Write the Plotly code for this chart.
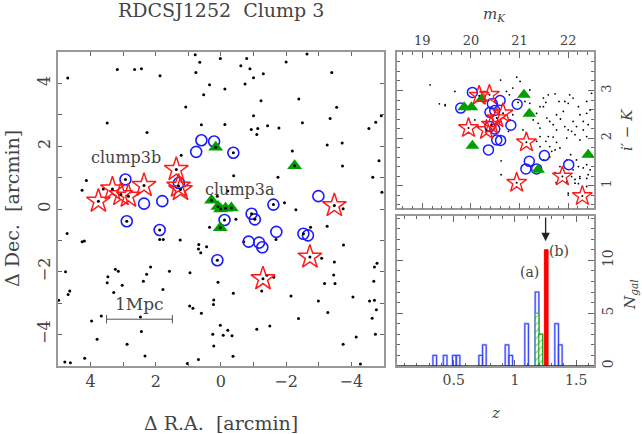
import plotly.graph_objects as go

# ---- left panel: sky positions (arcmin) ----
dot_ra = [4.70, 3.18, 2.65, 2.44, 1.87, 0.79, 0.65, 0.77, 0.35, 0.53, 1.08, 0.60, 3.49, 2.27, 1.22,
          4.13, 4.26, 3.61, 0.11, 0.02, -0.79, -2.64, -2.00, -0.61, -0.89, -1.30, -1.00, -0.74, -3.40,
          -0.12, -1.23, -2.39, -3.55, -1.00, -3.35, -2.50, -0.12, -1.43, -1.78, -0.93, -1.13, -1.10,
          -4.54, -4.75, -4.92, -3.72, -3.26, -2.19, -4.85, -3.73, -0.39, -1.75, -4.66, -4.94, -0.21,
          -1.95, 4.72, 4.26, 4.19, 1.88, 1.77, 1.25, 0.68, 0.69, 0.62, 0.44, 0.35, 4.77, 3.24, 3.15,
          3.47, 3.49, 3.03, 2.16, 2.28, 2.38, 1.58, 0.95, 0.09, 3.29, 1.78, 4.64, 4.69, 4.98, 0.96,
          0.86, 0.60, 0.22, 0.23, 3.67, 3.97, 2.47, 2.44, 3.80, 2.88, 0.25, 0.22, 2.33, 4.18, 4.79,
          4.62, 1.03, 0.69, -2.30, -0.46, -2.75, -3.26, -3.76, -1.69, -0.70, -3.09, -3.48, -4.79,
          -4.71, -1.62, -1.41, -3.46, -3.18, -3.50, -4.69, -1.25, -0.38, -2.15, -2.99, -4.05, -4.56,
          -4.71, -4.77, -3.28, -2.38, -4.64, 0.02, -0.21, -0.07, -0.34, -1.50, -1.10, -4.74, -4.15,
          -3.75, -0.37, -4.28, -3.75]
dot_dec = [4.17, 4.44, 4.44, 4.47, 4.24, 4.91, 4.67, 4.35, 3.96, 3.64, 3.25, 2.68, 2.74, 2.44, 1.71,
           0.91, 0.60, 0.64, 0.41, 4.79, 4.79, 4.94, 4.68, 4.56, 4.47, 4.31, 4.18, 3.98, 4.35,
           3.82, 3.45, 3.50, 3.24, 2.97, 2.88, 2.75, 2.69, 2.65, 2.58, 2.53, 2.56, 2.37,
           2.56, 2.76, 2.97, 2.10, 2.04, 1.85, 1.54, 1.37, 1.06, 1.01, 1.01, 0.53, 0.57,
           0.20, -0.78, -1.04, -1.02, -0.97, -0.97, -0.99, -1.13, -1.27, -1.39, -1.20, -0.58, -2.00, -1.92, -1.98,
           -2.16, -2.35, -2.43, -1.85, -2.08, -2.30, -1.98, -2.03, -2.33, -2.66, -2.56, -2.61, -2.72, -2.91, -3.09,
           -3.16, -3.32, -2.90, -3.04, -3.41, -3.57, -3.44, -3.90, -4.15, -4.31, -3.99, -4.36, -4.68, -4.75, -4.87,
           -4.90, -4.92, -4.79, -0.02, -0.33, -0.58, -0.55, -1.15, -0.97, -1.04, -1.57, -1.69, -1.73,
           -1.85, -2.17, -2.11, -2.10, -2.37, -2.37, -2.30, -2.61, -2.68, -2.77, -2.93, -2.80, -2.93,
           -2.91, -3.21, -3.30, -3.49, -3.48, -3.70, -3.86, -4.02, -4.04, -3.73, -3.83, -3.99, -4.08,
           -4.31, -4.69, -4.94, 0.01]

star_ra = [3.76, 3.33, 3.07, 2.84, 2.36, 1.37, 1.30, 1.24, -3.48, -2.73, -1.29]
star_dec = [0.25, 0.64, 0.46, 0.41, 0.75, 1.26, 0.73, 0.62, 0.11, -1.53, -2.22]

circ_ra = [2.93, 2.36, 1.80, 1.29, 0.76, 0.60, 0.21, -0.38, -1.61, -2.99, 2.89, 1.88, -0.11,
           -0.94, -1.04, -1.70, -2.53, -2.67, -0.85, -1.17, -1.27, 0.11]
circ_dec = [0.94, 0.17, 0.25, 0.83, 1.82, 2.19, 2.15, 1.79, 0.14, 0.41, -0.39, -0.67, -0.35,
            -0.15, -0.33, -0.73, -0.79, -0.84, -1.04, -1.07, -1.22, -1.63]
circ_dotted = [1, 0, 0, 0, 0, 0, 0, 1, 1, 0, 1, 1, 1, 1, 1, 0, 1, 0, 0, 0, 0, 1]

tri_ra = [0.16, -2.26, 0.29, 0.09, 0.01, -0.14, -0.32, 0.02]
tri_dec = [1.97, 1.38, 0.28, 0.08, 0.00, 0.02, 0.03, -0.60]

scalebar_ra = [3.51, 1.49]
scalebar_dec = -3.51

# ---- top right: colour-magnitude ----
cmd_dot_mk = [19.47, 19.67, 20.08, 20.61, 20.62, 20.62, 20.94, 21.01, 20.86, 20.79, 20.97, 21.11, 21.21,
              20.86, 20.77, 21.18, 21.28, 21.38, 21.42, 21.42, 21.54, 21.59, 21.69, 21.76, 21.62, 21.73,
              21.83, 21.42, 21.35, 21.50, 21.66, 21.62, 21.59, 21.73, 21.81, 21.93, 22.03, 22.00, 22.10,
              22.21, 22.38, 22.38, 22.31, 22.41, 21.76, 21.84, 21.93, 22.00, 22.07, 22.14, 22.24, 21.97,
              22.38, 21.76, 21.90, 22.24, 22.45, 22.48, 21.69, 21.42, 21.54, 21.49, 21.56, 21.62, 22.10,
              22.17, 22.31, 22.05, 22.17, 22.21, 22.31, 22.38, 22.07, 22.14, 22.24, 22.00, 22.10, 21.97,
              21.83, 22.41, 22.38, 22.45, 21.21, 21.07, 20.73, 20.80, 21.49, 21.35, 19.16, 19.35, 19.47,
              21.73, 21.75, 21.97, 22.14, 22.21, 22.24, 22.38, 22.00]
cmd_dot_col = [2.70, 2.98, 2.38, 3.22, 1.52, 1.23, 3.28, 3.19, 3.05, 2.91, 2.75, 2.77, 2.73,
               2.49, 2.14, 2.56, 2.38, 2.31, 2.21, 2.03, 1.93, 2.03, 2.02, 1.91, 1.82, 1.75,
               1.79, 1.82, 1.93, 1.54, 1.72, 1.60, 2.91, 2.93, 2.77, 2.77, 2.91, 2.73, 2.84,
               2.66, 2.77, 2.52, 2.35, 2.28, 2.49, 2.40, 2.24, 2.17, 2.14, 2.07, 1.96, 2.00,
               2.03, 2.17, 2.56, 2.49, 2.59, 2.94, 2.28, 2.66, 2.75, 2.66, 2.42, 2.35, 2.35,
               2.24, 2.17, 1.65, 1.54, 1.40, 1.37, 1.44, 1.19, 1.05, 1.15, 0.80, 1.33, 1.54,
               1.40, 1.23, 0.98, 1.33, 3.01, 2.17, 2.98, 2.38, 2.84, 2.52, 3.12, 2.72, 2.68,
               1.27, 1.06, 1.08, 1.13, 1.04, 1.19, 1.15, 0.84]

cmd_star_mk = [20.38, 20.17, 19.95, 20.32, 20.42, 20.66, 20.53, 21.14, 20.94, 21.88, 22.29]
cmd_star_col = [2.91, 2.89, 2.21, 2.17, 2.28, 2.52, 2.42, 1.91, 1.06, 1.19, 0.78]

cmd_circ_mk = [20.03, 19.79, 20.44, 20.60, 20.95, 20.39, 20.49, 20.39, 20.49, 20.82, 20.53, 20.61,
               20.36, 21.51, 21.20, 21.13, 21.35, 22.01]
cmd_circ_col = [2.96, 2.63, 2.72, 2.79, 2.71, 2.54, 2.58, 2.24, 2.19, 2.27, 1.96, 1.95,
                1.75, 1.63, 1.51, 1.35, 1.35, 1.44]

cmd_tri_mk = [19.86, 20.01, 20.22, 21.09, 21.20, 20.03, 22.41, 21.38]
cmd_tri_col = [2.65, 2.65, 2.82, 2.91, 2.51, 1.84, 1.65, 1.33]

# ---- bottom right: redshift histogram ----
z_all = [0.345, 0.43, 0.505, 0.535, 0.72, 0.75, 0.935, 0.965, 1.095, 1.18, 1.21, 1.34, 1.37]
n_all = [1, 1, 1, 1, 1, 2, 2, 1, 4, 7, 3, 4, 2]
z_a = [1.18, 1.21]
n_a = [5, 3]
z_b = [1.255]
n_b = [11]
bin_w = 0.03

RED = '#ff1a1a'
BLUE = '#1a1aff'
GREEN = '#00a000'
TXT = '#444444'

fig = go.Figure()

# left panel
fig.add_trace(go.Scatter(x=dot_ra, y=dot_dec, mode='markers', marker=dict(color='black', size=3),
                         xaxis='x', yaxis='y'))
fig.add_trace(go.Scatter(x=circ_ra, y=circ_dec, mode='markers',
                         marker=dict(symbol='circle-open', color=BLUE, size=11, line=dict(width=1.6)),
                         xaxis='x', yaxis='y'))
fig.add_trace(go.Scatter(x=[a for a, d in zip(circ_ra, circ_dotted) if d],
                         y=[b for b, d in zip(circ_dec, circ_dotted) if d],
                         mode='markers', marker=dict(color='black', size=3), xaxis='x', yaxis='y'))
fig.add_trace(go.Scatter(x=tri_ra, y=tri_dec, mode='markers',
                         marker=dict(symbol='triangle-up', color=GREEN, size=13), xaxis='x', yaxis='y'))
fig.add_trace(go.Scatter(x=star_ra, y=star_dec, mode='markers',
                         marker=dict(symbol='star-open', color=RED, size=18, line=dict(width=1.5)),
                         xaxis='x', yaxis='y'))
fig.add_trace(go.Scatter(x=star_ra + tri_ra, y=star_dec + tri_dec, mode='markers',
                         marker=dict(color='black', size=3), xaxis='x', yaxis='y'))
fig.add_trace(go.Scatter(x=scalebar_ra, y=[scalebar_dec] * 2, mode='lines+markers',
                         line=dict(color='#555', width=1),
                         marker=dict(symbol='line-ns', size=6, line=dict(color='#555', width=1)),
                         xaxis='x', yaxis='y'))

# top right panel
fig.add_trace(go.Scatter(x=cmd_dot_mk, y=cmd_dot_col, mode='markers', marker=dict(color='black', size=1.8),
                         xaxis='x2', yaxis='y2'))
fig.add_trace(go.Scatter(x=cmd_circ_mk, y=cmd_circ_col, mode='markers',
                         marker=dict(symbol='circle-open', color=BLUE, size=10, line=dict(width=1.5)),
                         xaxis='x2', yaxis='y2'))
fig.add_trace(go.Scatter(x=cmd_tri_mk, y=cmd_tri_col, mode='markers',
                         marker=dict(symbol='triangle-up', color=GREEN, size=12), xaxis='x2', yaxis='y2'))
fig.add_trace(go.Scatter(x=cmd_star_mk, y=cmd_star_col, mode='markers',
                         marker=dict(symbol='star-open', color=RED, size=15, line=dict(width=1.4)),
                         xaxis='x2', yaxis='y2'))
fig.add_trace(go.Scatter(x=cmd_star_mk, y=cmd_star_col, mode='markers',
                         marker=dict(color='black', size=2), xaxis='x2', yaxis='y2'))

# histogram
fig.add_trace(go.Bar(x=z_all, y=n_all, width=bin_w, marker=dict(color='rgba(0,0,0,0)',
                     line=dict(color='#aab4ff', width=2.2)), xaxis='x3', yaxis='y3'))
fig.add_trace(go.Bar(x=z_all, y=n_all, width=bin_w, marker=dict(color='rgba(0,0,0,0)',
                     line=dict(color='#2b3bff', width=0.9)), xaxis='x3', yaxis='y3'))
fig.add_trace(go.Bar(x=z_a, y=n_a, width=bin_w,
                     marker=dict(color='white', pattern=dict(shape='/', fgcolor='#22aa22', size=5, solidity=0.3),
                                 line=dict(color='#22aa22', width=1)), xaxis='x3', yaxis='y3'))
fig.add_trace(go.Bar(x=z_b, y=n_b, width=bin_w, marker=dict(color='#ff0000', line=dict(color='#ff0000', width=1)),
                     xaxis='x3', yaxis='y3'))

frame = dict(showline=True, mirror='allticks', linecolor='#999', linewidth=1.5, ticks='inside',
             tickcolor='#666', showgrid=False, zeroline=False, automargin=False)

fig.update_layout(
    width=642, height=434, margin=dict(l=58, r=48, t=52, b=68),
    plot_bgcolor='white', paper_bgcolor='white', showlegend=False, barmode='overlay',
    font=dict(family='DejaVu Serif', color=TXT, size=15),
    xaxis=dict(domain=[0, 0.608], range=[5, -5], anchor='y', dtick=2, ticklen=4,
               minor=dict(dtick=1, ticks='inside', ticklen=4, tickcolor='#666'),
               tickfont=dict(size=16), **frame),
    yaxis=dict(domain=[0, 1], range=[-5, 5], anchor='x', dtick=2, ticklen=4, tickangle=-90,
               minor=dict(dtick=1, ticks='inside', ticklen=4, tickcolor='#666'),
               tickfont=dict(size=16), **frame),
    xaxis2=dict(domain=[0.6325, 1], range=[18.48, 22.53], anchor='y2', side='top', dtick=1, ticklen=6,
                minor=dict(dtick=0.2, ticks='inside', ticklen=3, tickcolor='#666'),
                tickfont=dict(size=13), **frame),
    yaxis2=dict(domain=[0.502, 1], range=[0.52, 3.81], anchor='x2', side='right', dtick=1, ticklen=6,
                tickangle=-90, minor=dict(dtick=0.2, ticks='inside', ticklen=3, tickcolor='#666'),
                tickfont=dict(size=13), **frame),
    xaxis3=dict(domain=[0.6325, 1], range=[0.037, 1.645], anchor='y3', dtick=0.5, ticklen=6,
                minor=dict(dtick=0.1, ticks='inside', ticklen=3, tickcolor='#666'),
                tickfont=dict(size=14), **frame),
    yaxis3=dict(domain=[0, 0.478], range=[0, 14.2], anchor='x3', side='right', dtick=5, ticklen=6,
                tickangle=-90, minor=dict(dtick=1, ticks='inside', ticklen=3, tickcolor='#666'),
                tickfont=dict(size=14), **frame),
    shapes=[dict(type='line', xref='x3 domain', x0=0, x1=1, yref='y3', y0=0, y1=0,
                 line=dict(color='#1a1acc', width=1.5))],
    annotations=[
        dict(text='RDCSJ1252  Clump 3', xref='x domain', x=0.5, yref='paper', y=1.133,
             showarrow=False, font=dict(size=19)),
        dict(text='Δ R.A.  [arcmin]', xref='paper', x=0.304, yref='paper', y=-0.1815,
             showarrow=False, font=dict(size=19)),
        dict(text='Δ Dec.  [arcmin]', xref='paper', x=-0.0858, yref='paper', y=0.5, textangle=-90,
             showarrow=False, font=dict(size=19)),
        dict(text='<i>m</i><sub><i>K</i></sub>', xref='paper', x=0.815, yref='paper', y=1.12,
             showarrow=False, font=dict(size=15)),
        dict(text="<i>i′</i> − <i>K</i>", xref='paper', x=1.062, yref='paper', y=0.752, textangle=-90,
             showarrow=False, font=dict(size=15)),
        dict(text='<i>z</i>', xref='paper', x=0.817, yref='paper', y=-0.149,
             showarrow=False, font=dict(size=15)),
        dict(text='<i>N</i><sub><i>gal</i></sub>', xref='paper', x=1.067, yref='paper', y=0.226, textangle=-90,
             showarrow=False, font=dict(size=15)),
        dict(text='clump3b', xref='x', yref='y', x=2.91, y=1.64, showarrow=False, font=dict(size=16)),
        dict(text='clump3a', xref='x', yref='y', x=-0.59, y=0.62, showarrow=False, font=dict(size=16)),
        dict(text='1Mpc', xref='x', yref='y', x=2.5, y=-3.04, showarrow=False, font=dict(size=17)),
        dict(text='(a)', xref='x3', yref='y3', x=1.12, y=8.86, showarrow=False, font=dict(size=14)),
        dict(text='(b)', xref='x3', yref='y3', x=1.358, y=10.85, showarrow=False, font=dict(size=14)),
        dict(text='', xref='x3', yref='y3', x=1.25, y=11.8, axref='x3', ayref='y3', ax=1.25, ay=14.2,
             showarrow=True, arrowhead=2, arrowsize=1.3, arrowwidth=1.3, arrowcolor='#222'),
    ],
)
for a in fig.layout.annotations:
    a.xanchor = 'center'
    a.yanchor = 'middle'

# drop the browser's default 8px body margin so the figure sits at the window's corner
fig.write_html("out.html", config={'displayModeBar': False},
               post_script="document.body.style.margin='0';")
